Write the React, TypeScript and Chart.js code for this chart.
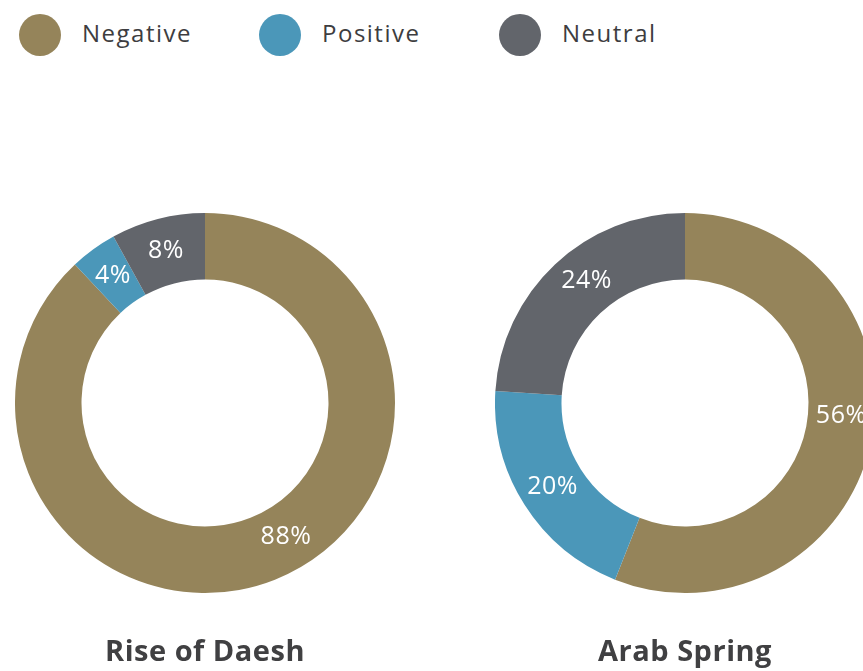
import React, { useEffect, useRef } from "react";
import { Chart, registerables } from "chart.js";

Chart.register(...registerables);

const categories = ["Negative", "Positive", "Neutral"];
const colors = ["#95845a", "#4b97b9", "#62656b"];
const chartTitles = ["Rise of Daesh", "Arab Spring"];
const daeshValues = [88, 4, 8];
const arabSpringValues = [56, 20, 24];

const labelPlugin = {
  id: "sliceLabels",
  afterDatasetsDraw(chart: any, _args: any, opts: any) {
    const ctx = chart.ctx;
    const meta = chart.getDatasetMeta(0);
    const data = chart.data.datasets[0].data;
    const fr: number[] = opts.fractions || [];
    ctx.save();
    ctx.fillStyle = "#ffffff";
    ctx.font = "25px 'Open Sans'";
    ctx.textAlign = "center";
    ctx.textBaseline = "middle";
    meta.data.forEach((arc: any, i: number) => {
      const { x, y, startAngle, endAngle, innerRadius, outerRadius } = arc.getProps(
        ["x", "y", "startAngle", "endAngle", "innerRadius", "outerRadius"],
        true
      );
      const f = fr[i] ?? 0.5;
      const a = startAngle + (endAngle - startAngle) * f;
      const r = (innerRadius + outerRadius) / 2;
      ctx.fillText(data[i] + "%", x + Math.cos(a) * r, y + Math.sin(a) * r);
    });
    ctx.restore();
  },
};

function Donut({
  values,
  title,
  left,
  fractions,
}: {
  values: number[];
  title: string;
  left: number;
  fractions: number[];
}) {
  const ref = useRef<HTMLCanvasElement>(null);
  useEffect(() => {
    const chart = new Chart(ref.current!, {
      type: "doughnut",
      data: {
        labels: categories,
        datasets: [
          {
            data: values,
            backgroundColor: colors,
            borderWidth: 0,
            hoverOffset: 0,
          },
        ],
      },
      options: {
        animation: false,
        responsive: false,
        cutout: "65%",
        layout: { padding: 0 },
        plugins: {
          legend: { display: false },
          tooltip: { enabled: false },
          title: {
            display: true,
            text: title,
            position: "bottom",
            color: "#404042",
            font: { family: "'Open Sans'", size: 29, weight: "bold", lineHeight: 1.2 },
            padding: { top: 42, bottom: 1.2 },
          },
          sliceLabels: { fractions },
        } as any,
      },
      plugins: [labelPlugin],
    });
    return () => chart.destroy();
  }, []);
  return (
    <canvas
      ref={ref}
      width={380}
      height={458}
      style={{ position: "absolute", left, top: 213, width: 380, height: 458, letterSpacing: "0.5px" }}
    />
  );
}

export default function App() {
  return (
    <div
      style={{
        position: "fixed",
        left: 0,
        top: 0,
        width: 863,
        height: 671,
        overflow: "hidden",
        background: "#ffffff",
      }}
    >
      {categories.map((c, i) => (
        <div
          key={c}
          style={{
            position: "absolute",
            left: 19 + i * 240,
            top: 14,
            height: 42,
            display: "flex",
            alignItems: "center",
          }}
        >
          <span
            style={{
              display: "inline-block",
              width: 42,
              height: 42,
              borderRadius: "50%",
              background: colors[i],
            }}
          />
          <span
            style={{
              marginLeft: 21,
              fontFamily: "'Open Sans'",
              fontSize: 24,
              letterSpacing: "1.5px",
              color: "#3d3d40",
              position: "relative",
              top: -3,
            }}
          >
            {c}
          </span>
        </div>
      ))}
      <Donut values={daeshValues} title={chartTitles[0]} left={15} fractions={[0.47, 0.5, 0.5]} />
      <Donut values={arabSpringValues} title={chartTitles[1]} left={495} fractions={[0.47, 0.5, 0.55]} />
    </div>
  );
}
